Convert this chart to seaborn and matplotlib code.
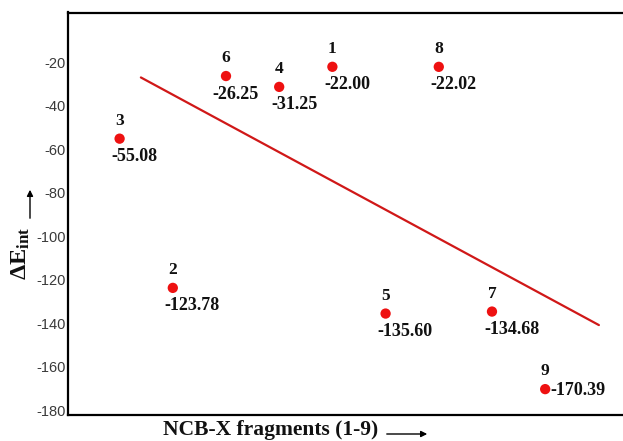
import matplotlib
matplotlib.use("Agg")
import matplotlib.pyplot as plt
import seaborn as sns
import pandas as pd

# ---- data ----
fragments = ["3", "2", "6", "4", "1", "5", "8", "7", "9"]
energies = [-55.08, -123.78, -26.25, -31.25, -22.00, -135.60, -22.02, -134.68, -170.39]
value_labels = ["-55.08", "-123.78", "-26.25", "-31.25", "-22.00", "-135.60", "-22.02", "-134.68", "-170.39"]
trend_x = [1.40, 10.01]
trend_y = [-26.9, -140.9]
y_ticks = [-20, -40, -60, -80, -100, -120, -140, -160, -180]

df = pd.DataFrame({"pos": list(range(1, len(fragments) + 1)),
                   "energy": energies, "frag": fragments})
trend = pd.DataFrame({"x": trend_x, "y": trend_y})

sns.set_theme(style="white")
plt.rcParams["font.family"] = ["Liberation Serif", "DejaVu Serif"]
plt.rcParams["mathtext.fontset"] = "custom"
plt.rcParams["mathtext.rm"] = "Liberation Serif"
plt.rcParams["mathtext.it"] = "Liberation Serif:bold"
plt.rcParams["mathtext.bf"] = "Liberation Serif:bold"

fig = plt.figure(figsize=(6.23, 4.41), dpi=100)
ax = fig.add_axes([68 / 623, 1 - 415 / 441, 1 - 68 / 623 + 0.01, (415 - 12.5) / 441])

sns.lineplot(data=trend, x="x", y="y", ax=ax, color="#d01818", linewidth=1.6)
sns.scatterplot(data=df, x="pos", y="energy", ax=ax, color="#ee1111",
                edgecolor="none", s=55, zorder=3)

ax.set_xlim(0.03, 10.58)
ax.set_ylim(-182.3, 3)
ax.set_xticks([])
ax.set_yticks(y_ticks)
ax.set_yticklabels([str(t) for t in y_ticks], family="Liberation Sans",
                   fontsize=10.5, color="#3a3a3a")
ax.tick_params(axis="y", length=0, pad=1.5)
ax.set_xlabel("")
ax.set_ylabel("")

for side in ["left", "bottom", "top"]:
    ax.spines[side].set_color("black")
    ax.spines[side].set_linewidth(1.6)
ax.spines["right"].set_visible(False)

px = 0.72  # points per pixel
for i, row in df.iterrows():
    x, y, f = row["pos"], row["energy"], row["frag"]
    ax.annotate(f, (x, y), xytext=(0, 18 * px), textcoords="offset points",
                ha="center", va="center", fontsize=12.5, fontweight="bold",
                color="#111111")
    if f == "9":
        ax.annotate(value_labels[i], (x, y), xytext=(5 * px, -1 * px),
                    textcoords="offset points", ha="left", va="center",
                    fontsize=13, fontweight="bold", color="#111111")
    else:
        dx = -14 if f == "6" else -8
        ax.annotate(value_labels[i], (x, y), xytext=(dx * px, -18 * px),
                    textcoords="offset points", ha="left", va="center",
                    fontsize=13, fontweight="bold", color="#111111")

# axis titles with arrows
fig.text(163 / 623, 1 - 430 / 441, "NCB-X fragments (1-9)", ha="left", va="center",
         fontsize=15.5, fontweight="bold", color="#111111")
fig.add_artist(matplotlib.patches.FancyArrowPatch(
    (384 / 623, 1 - 434 / 441), (430 / 623, 1 - 434 / 441), transform=fig.transFigure,
    arrowstyle="-|>", mutation_scale=9, color="black", linewidth=1.0))

fig.text(21 / 623, 1 - 253 / 441, r"$\mathbf{\Delta E_{int}}$", ha="center", va="center",
         rotation=90, fontsize=17.5, color="#111111")
fig.add_artist(matplotlib.patches.FancyArrowPatch(
    (30 / 623, 1 - 221 / 441), (30 / 623, 1 - 187 / 441), transform=fig.transFigure,
    arrowstyle="-|>", mutation_scale=9, color="black", linewidth=1.0))

fig.savefig("out.png", dpi=100)
